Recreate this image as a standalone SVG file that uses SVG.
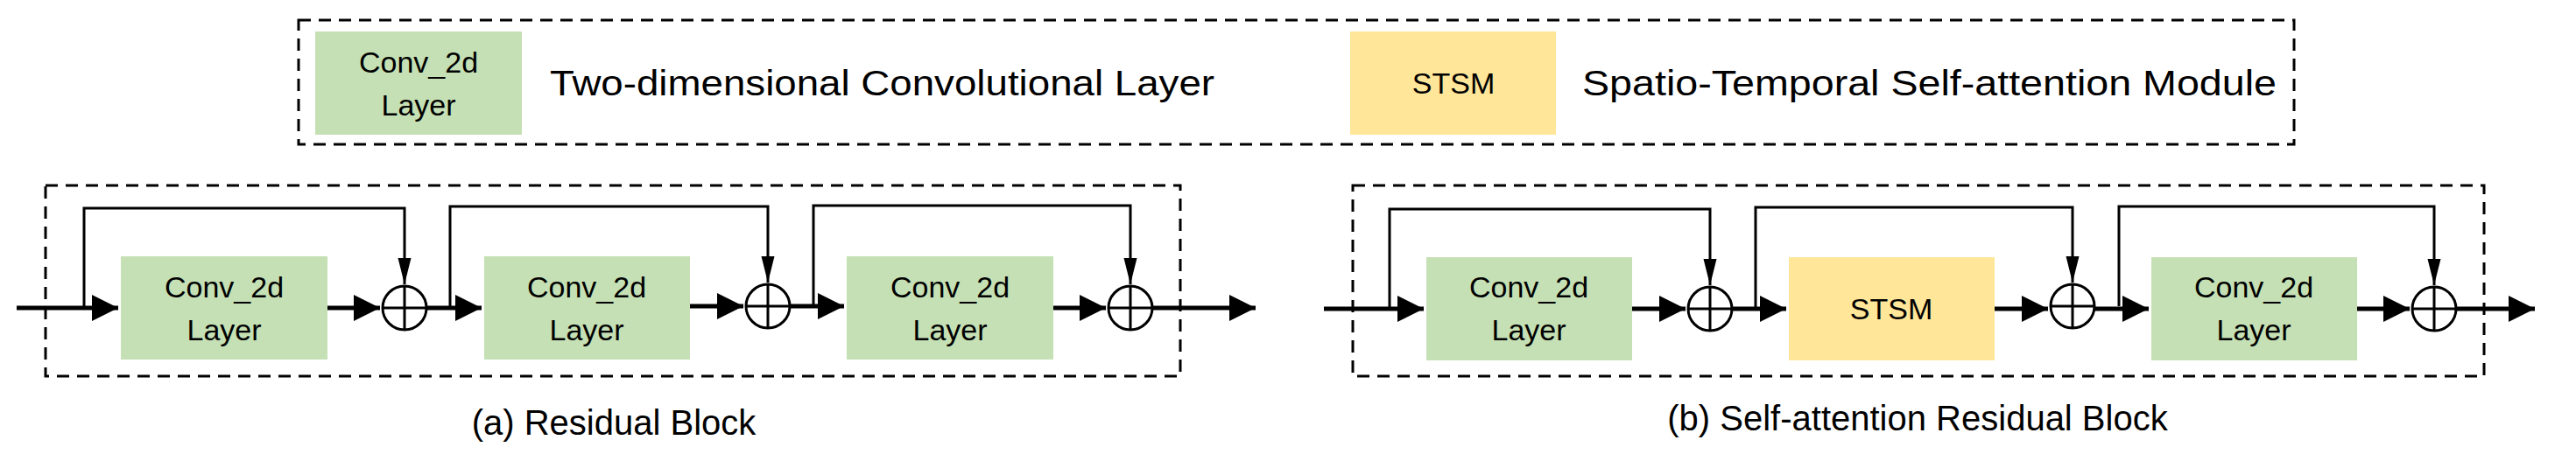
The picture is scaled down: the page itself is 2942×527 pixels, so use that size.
<svg xmlns="http://www.w3.org/2000/svg" width="2942" height="527" viewBox="0 0 2942 527">
<style>
text{font-family:"Liberation Sans",Arial,sans-serif;fill:#000}
.lbl{font-size:34px;text-anchor:middle}
.big{font-size:40px}
.dash{fill:none;stroke:#000;stroke-width:3;stroke-dasharray:14,9}
.g{fill:#c5e0b4}.y{fill:#ffe699}
.ln{fill:none;stroke:#000;stroke-width:5}
.sk{fill:none;stroke:#000;stroke-width:3}
.pl{fill:#fff;stroke:#000;stroke-width:3}
</style>
<defs>
<marker id="ah" markerWidth="6" markerHeight="6" refX="6" refY="3" orient="auto" markerUnits="strokeWidth"><path d="M0,0L6,3L0,6z"/></marker>
<marker id="av" markerWidth="10" markerHeight="22" refX="20" refY="5" orient="auto" markerUnits="strokeWidth" viewBox="0 0 20 10"><path d="M0,0L20,5L0,10z"/></marker>
<g id="plus"><circle r="25" class="pl"/><path d="M-25,0H25M0,-25V25" stroke="#000" stroke-width="3"/></g>
</defs>
<g id="legend">
<rect x="341" y="23" width="2279" height="142" class="dash"/>
<rect x="360" y="36" width="236" height="118" class="g"/>
<text class="lbl" x="478" y="83">Conv_2d</text><text class="lbl" x="478" y="132">Layer</text>
<text class="big" x="628" y="109" textLength="759" lengthAdjust="spacingAndGlyphs">Two-dimensional Convolutional Layer</text>
<rect x="1542" y="36" width="235" height="118" class="y"/>
<text class="lbl" x="1660" y="107">STSM</text>
<text class="big" x="1807" y="109" textLength="793" lengthAdjust="spacingAndGlyphs">Spatio-Temporal Self-attention Module</text>
</g>
<g id="blockA">
<rect x="52" y="212" width="1296" height="218" class="dash"/>
<g id="a1"><rect x="138" y="293" width="236" height="118" class="g"/><text class="lbl" x="256" y="340">Conv_2d</text><text class="lbl" x="256" y="389">Layer</text></g>
<g id="a2"><rect x="553" y="293" width="235" height="118" class="g"/><text class="lbl" x="670" y="340">Conv_2d</text><text class="lbl" x="670" y="389">Layer</text></g>
<g id="a3"><rect x="967" y="293" width="236" height="118" class="g"/><text class="lbl" x="1085" y="340">Conv_2d</text><text class="lbl" x="1085" y="389">Layer</text></g>
<use href="#plus" x="462" y="352"/><use href="#plus" x="877" y="350"/><use href="#plus" x="1291" y="352"/>
<text class="big" x="701" y="497" text-anchor="middle">(a) Residual Block</text>
</g>
<g id="blockB">
<rect x="1545" y="212" width="1292" height="218" class="dash"/>
<g id="b1"><rect x="1629" y="294" width="235" height="118" class="g"/><text class="lbl" x="1746" y="340">Conv_2d</text><text class="lbl" x="1746" y="389">Layer</text></g>
<g id="b2"><rect x="2043" y="294" width="235" height="118" class="y"/><text class="lbl" x="2160" y="365">STSM</text></g>
<g id="b3"><rect x="2457" y="294" width="235" height="118" class="g"/><text class="lbl" x="2574" y="340">Conv_2d</text><text class="lbl" x="2574" y="389">Layer</text></g>
<use href="#plus" x="1953" y="353"/><use href="#plus" x="2367" y="350"/><use href="#plus" x="2780" y="353"/>
<text class="big" x="2190" y="492" text-anchor="middle">(b) Self-attention Residual Block</text>
</g>
<g id="connectors">
<path class="ln" d="M19,352H135" marker-end="url(#ah)"/>
<path class="ln" d="M374,352H434" marker-end="url(#ah)"/>
<path class="ln" d="M487,352H550" marker-end="url(#ah)"/>
<path class="ln" d="M788,350H849" marker-end="url(#ah)"/>
<path class="ln" d="M902,350H964" marker-end="url(#ah)"/>
<path class="ln" d="M1203,352H1263" marker-end="url(#ah)"/>
<path class="ln" d="M1316,352H1434" marker-end="url(#ah)"/>
<path class="sk" d="M96,352V238H462V325" marker-end="url(#av)"/>
<path class="sk" d="M514,352V236H877V323" marker-end="url(#av)"/>
<path class="sk" d="M929,350V235H1291V325" marker-end="url(#av)"/>
<path class="ln" d="M1512,353H1626" marker-end="url(#ah)"/>
<path class="ln" d="M1864,353H1925" marker-end="url(#ah)"/>
<path class="ln" d="M1978,353H2040" marker-end="url(#ah)"/>
<path class="ln" d="M2278,353H2339" marker-end="url(#ah)"/>
<path class="ln" d="M2392,353H2454" marker-end="url(#ah)"/>
<path class="ln" d="M2692,353H2752" marker-end="url(#ah)"/>
<path class="ln" d="M2805,353H2895" marker-end="url(#ah)"/>
<path class="sk" d="M1587,353V239H1953V326" marker-end="url(#av)"/>
<path class="sk" d="M2005,353V237H2367V323" marker-end="url(#av)"/>
<path class="sk" d="M2420,350V236H2780V326" marker-end="url(#av)"/>
</g>
</svg>
